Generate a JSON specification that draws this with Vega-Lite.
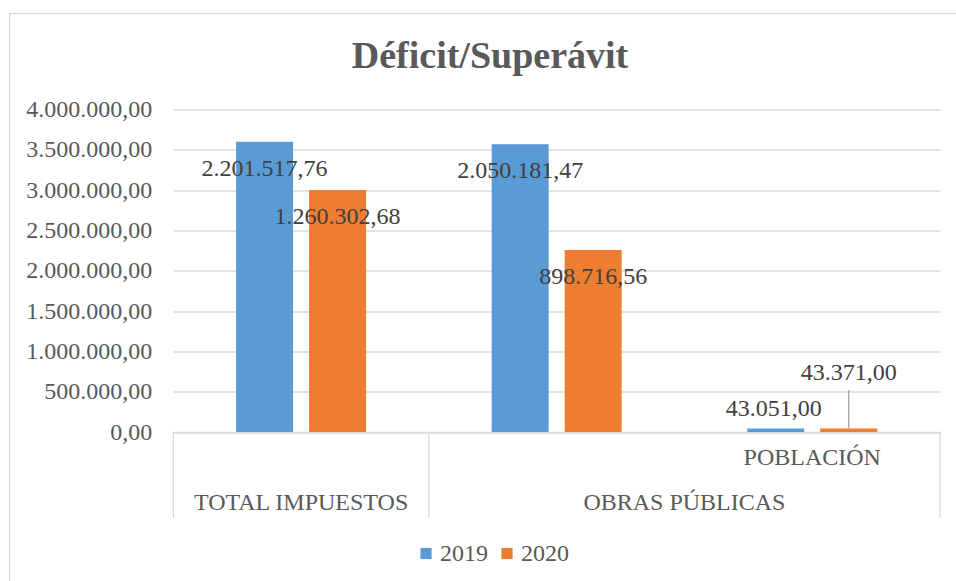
{
  "$schema": "https://vega.github.io/schema/vega-lite/v6.json",
  "autosize": {"type": "none"},
  "padding": {"left": 9.5, "top": 13.5, "right": 0, "bottom": 0},
  "width": 1000,
  "height": 580,
  "background": "#ffffff",
  "title": {
    "text": "Déficit/Superávit",
    "anchor": "middle",
    "frame": "group",
    "dx": -19.5,
    "dy": 37,
    "offset": -55.5,
    "baseline": "alphabetic",
    "font": "Liberation Serif",
    "fontSize": 38,
    "fontWeight": "bold",
    "color": "#595959"
  },
  "config": {
    "font": "Liberation Serif",
    "view": {"stroke": "#d9d9d9", "strokeWidth": 1.3},
    "locale": {"number": {"decimal": ",", "thousands": ".", "grouping": [3], "currency": ["", " €"]}}
  },
  "datasets": {
    "bars": [
      {"cat": "TOTAL IMPUESTOS", "year": "2019", "value": 3603000, "label": "2.201.517,76"},
      {"cat": "TOTAL IMPUESTOS", "year": "2020", "value": 3003000, "label": "1.260.302,68"},
      {"cat": "OBRAS PÚBLICAS", "year": "2019", "value": 3571000, "label": "2.050.181,47"},
      {"cat": "OBRAS PÚBLICAS", "year": "2020", "value": 2259000, "label": "898.716,56"},
      {"cat": "POBLACIÓN", "year": "2019", "value": 43051, "label": "43.051,00"},
      {"cat": "POBLACIÓN", "year": "2020", "value": 43371, "label": "43.371,00"}
    ]
  },
  "layer": [
    {
      "data": {"name": "bars"},
      "mark": {"type": "bar"},
      "encoding": {
        "x": {
          "field": "cat", "type": "nominal",
          "scale": {"domain": ["TOTAL IMPUESTOS", "OBRAS PÚBLICAS", "POBLACIÓN"], "range": [163.8, 930.5], "paddingInner": 0, "paddingOuter": 0},
          "axis": {"orient": "bottom", "offset": -161.5, "labels": false, "ticks": false, "grid": false, "title": null, "domainColor": "#d9d9d9", "domainWidth": 1.3}
        },
        "xOffset": {"field": "year", "type": "nominal", "scale": {"paddingInner": 0.219, "paddingOuter": 0.86}},
        "y": {
          "field": "value", "type": "quantitative",
          "scale": {"domain": [0, 4000000], "range": [418.5, 96.2], "nice": false, "zero": true},
          "axis": {
            "orient": "left", "offset": -163.8,
            "values": [0, 500000, 1000000, 1500000, 2000000, 2500000, 3000000, 3500000, 4000000],
            "format": ",.2f",
            "labelFont": "Liberation Serif", "labelFontSize": 24, "labelColor": "#595959",
            "labelPadding": 21.6, "ticks": false, "domain": false,
            "grid": true, "gridColor": "#d9d9d9", "gridWidth": 1.3, "title": null
          }
        },
        "color": {
          "field": "year", "type": "nominal",
          "scale": {"domain": ["2019", "2020"], "range": ["#5B9BD5", "#ED7D31"]},
          "legend": {
            "orient": "none", "legendX": 404.5, "legendY": 528, "direction": "horizontal", "title": null,
            "symbolType": "square", "symbolSize": 125, "symbolStrokeWidth": 0,
            "labelFont": "Liberation Serif", "labelFontSize": 24, "labelColor": "#595959",
            "labelOffset": 2, "columnPadding": 7
          }
        }
      }
    },
    {
      "data": {"name": "bars"},
      "transform": [{"filter": "datum.cat !== 'POBLACIÓN'"}],
      "mark": {"type": "text", "baseline": "middle", "dy": 27, "font": "Liberation Serif", "fontSize": 24, "color": "#404040"},
      "encoding": {
        "x": {"field": "cat", "type": "nominal"},
        "xOffset": {"field": "year", "type": "nominal"},
        "y": {"field": "value", "type": "quantitative"},
        "text": {"field": "label"}
      }
    },
    {
      "data": {"name": "bars"},
      "transform": [{"filter": "datum.cat === 'POBLACIÓN' && datum.year === '2019'"}],
      "mark": {"type": "text", "baseline": "middle", "dy": -20, "dx": -2, "font": "Liberation Serif", "fontSize": 24, "color": "#404040"},
      "encoding": {
        "x": {"field": "cat", "type": "nominal"},
        "xOffset": {"field": "year", "type": "nominal"},
        "y": {"field": "value", "type": "quantitative"},
        "text": {"field": "label"}
      }
    },
    {
      "data": {"name": "bars"},
      "transform": [{"filter": "datum.cat === 'POBLACIÓN' && datum.year === '2020'"}],
      "mark": {"type": "text", "baseline": "middle", "dy": -56, "font": "Liberation Serif", "fontSize": 24, "color": "#404040"},
      "encoding": {
        "x": {"field": "cat", "type": "nominal"},
        "xOffset": {"field": "year", "type": "nominal"},
        "y": {"field": "value", "type": "quantitative"},
        "text": {"field": "label"}
      }
    },
    {
      "data": {"name": "bars"},
      "transform": [{"filter": "datum.cat === 'POBLACIÓN' && datum.year === '2020'"}],
      "mark": {"type": "rule", "color": "#a6a6a6", "strokeWidth": 1.3},
      "encoding": {
        "x": {"field": "cat", "type": "nominal"},
        "xOffset": {"field": "year", "type": "nominal"},
        "y": {"field": "value", "type": "quantitative"},
        "y2": {"datum": 521000}
      }
    },
    {
      "data": {"values": [{"cat": "TOTAL IMPUESTOS"}]},
      "mark": {"type": "rule", "color": "#d9d9d9", "strokeWidth": 1.3},
      "encoding": {
        "x": {"field": "cat", "type": "nominal", "bandPosition": 0},
        "y": {"datum": 0},
        "y2": {"datum": -1067000}
      }
    },
    {
      "data": {"values": [{"cat": "TOTAL IMPUESTOS"}, {"cat": "POBLACIÓN"}]},
      "mark": {"type": "rule", "color": "#d9d9d9", "strokeWidth": 1.3},
      "encoding": {
        "x": {"field": "cat", "type": "nominal", "bandPosition": 1},
        "y": {"datum": 0},
        "y2": {"datum": -1067000}
      }
    },
    {
      "data": {"values": [{"cat": "TOTAL IMPUESTOS", "text": "TOTAL IMPUESTOS"}]},
      "mark": {"type": "text", "baseline": "middle", "dy": 71, "font": "Liberation Serif", "fontSize": 24, "color": "#595959"},
      "encoding": {
        "x": {"field": "cat", "type": "nominal", "bandPosition": 0.5},
        "y": {"datum": 0},
        "text": {"field": "text"}
      }
    },
    {
      "data": {"values": [{"cat": "OBRAS PÚBLICAS", "text": "OBRAS PÚBLICAS"}]},
      "mark": {"type": "text", "baseline": "middle", "dy": 71, "font": "Liberation Serif", "fontSize": 24, "color": "#595959"},
      "encoding": {
        "x": {"field": "cat", "type": "nominal", "bandPosition": 1},
        "y": {"datum": 0},
        "text": {"field": "text"}
      }
    },
    {
      "data": {"values": [{"cat": "POBLACIÓN", "text": "POBLACIÓN"}]},
      "mark": {"type": "text", "baseline": "middle", "dy": 25.5, "font": "Liberation Serif", "fontSize": 24, "color": "#595959"},
      "encoding": {
        "x": {"field": "cat", "type": "nominal", "bandPosition": 0.5},
        "y": {"datum": 0},
        "text": {"field": "text"}
      }
    }
  ]
}
